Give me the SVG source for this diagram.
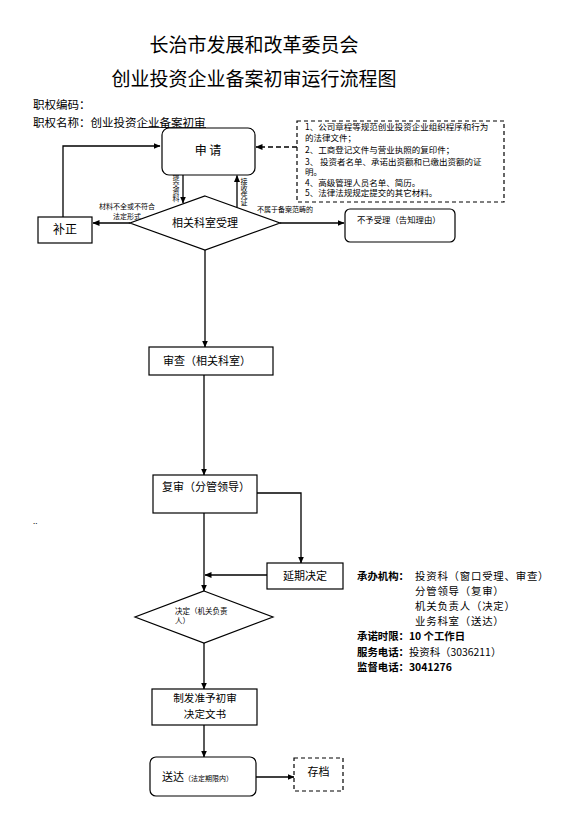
<svg xmlns="http://www.w3.org/2000/svg" width="573" height="830" viewBox="0 0 573 830">
<defs>
<style>
text{font-family:"Noto Sans CJK SC","Liberation Sans",sans-serif;fill:#000}
.box{fill:#fff;stroke:#000;stroke-width:1.2}
.dash{fill:#fff;stroke:#000;stroke-width:1.2;stroke-dasharray:4 3}
.ln{fill:none;stroke:#000;stroke-width:1.3}
.dl{fill:none;stroke:#000;stroke-width:1.3;stroke-dasharray:5 3}
.t11{font-size:11px}
.t12{font-size:12px}
.t7{font-size:7px}
.t8{font-size:8.5px}
.vt{font-size:7px;writing-mode:vertical-rl;text-orientation:upright;letter-spacing:0}
.b{font-weight:bold}
.inf{font-size:10.4px}
.val{letter-spacing:0.8px}
</style>
<marker id="ah" markerWidth="7" markerHeight="6" refX="6.5" refY="3" orient="auto" markerUnits="userSpaceOnUse">
<path d="M0,0 L7,3 L0,6 Z" fill="#000"/>
</marker>
</defs>
<rect width="573" height="830" fill="#fff"/>

<g id="header">
<text x="254" y="52" font-size="19" text-anchor="middle">长治市发展和改革委员会</text>
<text x="254" y="86" font-size="19" text-anchor="middle">创业投资企业备案初审运行流程图</text>
<text x="33" y="109" font-size="11.5">职权编码：</text>
<text x="33" y="127" font-size="11.5">职权名称：创业投资企业备案初审</text>
<line x1="142" y1="127.5" x2="206" y2="127.5" stroke="#000" stroke-width="0.8"/>
<text x="33" y="524" font-size="8">..</text>
</g>

<g id="connectors">
<polyline class="ln" points="63,217 63,146 160,146" marker-end="url(#ah)"/>
<line class="dl" x1="297" y1="147" x2="256" y2="147" marker-end="url(#ah)"/>
<line class="ln" x1="183" y1="175" x2="183" y2="203" marker-end="url(#ah)"/>
<line class="ln" x1="237" y1="207" x2="237" y2="175.5" marker-end="url(#ah)"/>
<line class="ln" x1="130" y1="223" x2="93" y2="223" marker-end="url(#ah)"/>
<line class="ln" x1="280" y1="223" x2="344" y2="223" marker-end="url(#ah)"/>
<line class="ln" x1="205" y1="250" x2="205" y2="347" marker-end="url(#ah)"/>
<line class="ln" x1="204" y1="375" x2="204" y2="475" marker-end="url(#ah)"/>
<polyline class="ln" points="257,493 301,493 301,563" marker-end="url(#ah)"/>
<line class="ln" x1="267" y1="575" x2="205" y2="575" marker-end="url(#ah)"/>
<line class="ln" x1="204" y1="513" x2="204" y2="591" marker-end="url(#ah)"/>
<line class="ln" x1="204" y1="643" x2="204" y2="689" marker-end="url(#ah)"/>
<line class="ln" x1="204" y1="725" x2="204" y2="757" marker-end="url(#ah)"/>
<line class="ln" x1="256" y1="777" x2="294" y2="777" marker-end="url(#ah)"/>
<text class="vt" x="176" y="174">提交资料</text>
<text class="vt" x="244" y="178">接收凭证</text>
<text class="t7" x="127" y="208.5" text-anchor="middle">材料不全或不符合</text>
<text class="t7" x="127" y="218.5" text-anchor="middle">法定形式</text>
<text class="t7" x="257" y="212">不属于备案范畴的</text>
</g>

<g id="apply">
<rect class="box" x="162" y="128" width="93" height="47" rx="7"/>
<text class="t12" x="208" y="155" text-anchor="middle">申 请</text>
</g>

<g id="materials">
<rect class="dash" x="297" y="121" width="207" height="81"/>
<text class="t8" x="305" y="130">1、公司章程等规范创业投资企业组织程序和行为</text>
<text class="t8" x="305" y="141">的法律文件；</text>
<text class="t8" x="305" y="152.5">2、工商登记文件与营业执照的复印件；</text>
<text class="t8" x="305" y="164.5">3、 投资者名单、承诺出资额和已缴出资额的证</text>
<text class="t8" x="305" y="175">明。</text>
<text class="t8" x="305" y="185.5">4、高级管理人员名单、简历。</text>
<text class="t8" x="305" y="196">5、法律法规规定提交的其它材料。</text>
</g>

<g id="accept">
<polygon class="box" points="205,196 280,223 205,250 130,223"/>
<text class="t11" x="205" y="227" text-anchor="middle">相关科室受理</text>
</g>

<g id="correct">
<rect class="box" x="38" y="217" width="54" height="26"/>
<text class="t12" x="65" y="234" text-anchor="middle">补正</text>
</g>

<g id="reject">
<rect class="box" x="345" y="209" width="110" height="33" rx="5"/>
<text x="357" y="223" font-size="8.4">不予受理（告知理由）</text>
</g>

<g id="review">
<rect class="box" x="149" y="347" width="124" height="28"/>
<text class="t11" x="163" y="365">审查（相关科室）</text>
</g>

<g id="recheck">
<rect class="box" x="153" y="475" width="104" height="38"/>
<text class="t11" x="162" y="491">复审（分管领导）</text>
</g>

<g id="delay">
<rect class="box" x="267" y="563" width="76" height="26"/>
<text class="t11" x="305" y="580" text-anchor="middle">延期决定</text>
</g>

<g id="decide">
<polygon class="box" points="204,591 273,617 204,643 135,617"/>
<text x="175" y="613.5" font-size="7.5">决定（机关负责</text>
<text x="175" y="623.5" font-size="7.5">人）</text>
</g>

<g id="issue">
<rect class="box" x="152" y="689" width="105" height="36"/>
<text x="205" y="702" font-size="10.6" text-anchor="middle">制发准予初审</text>
<text x="205" y="717.5" font-size="10.6" text-anchor="middle">决定文书</text>
</g>

<g id="deliver">
<rect class="box" x="150" y="757" width="106" height="39" rx="6"/>
<text x="162" y="781" class="t11">送达<tspan font-size="7">（法定期限内）</tspan></text>
</g>

<g id="archive">
<rect class="dash" x="294" y="758" width="49" height="33"/>
<text class="t11" x="318.5" y="776" text-anchor="middle">存档</text>
</g>

<g id="info">
<text class="inf" x="357" y="580"><tspan class="b">承办机构：</tspan><tspan class="val" x="415">投资科（窗口受理、审查）</tspan></text>
<text class="inf val" x="415" y="595">分管领导（复审）</text>
<text class="inf val" x="415" y="610">机关负责人（决定）</text>
<text class="inf val" x="415" y="625">业务科室（送达）</text>
<text class="inf b" x="357" y="640">承诺时限：10 个工作日</text>
<text class="inf" x="357" y="655.5"><tspan class="b">服务电话：</tspan>投资科（3036211）</text>
<text class="inf b" x="357" y="671">监督电话：3041276</text>
</g>
</svg>
